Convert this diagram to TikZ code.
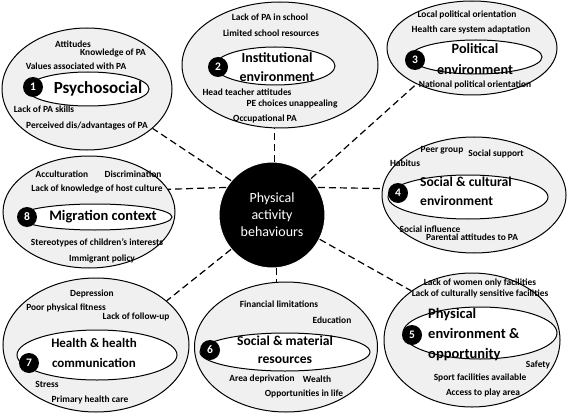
\documentclass[tikz,border=0pt]{standalone}
\usepackage{fontspec}
\setmainfont{Carlito}[BoldFont={Carlito Bold}]
\usetikzlibrary{shapes.geometric}
\definecolor{ringgray}{RGB}{240,240,240}
\definecolor{lineblack}{RGB}{0,0,0}

\begin{document}
\begin{tikzpicture}[x=1pt, y=-1pt,
  outer/.style={ellipse, draw=lineblack, fill=ringgray, line width=1pt, inner sep=0pt},
  inner/.style={ellipse, draw=lineblack, fill=white, line width=1pt, inner sep=0pt},
  badge/.style={circle, fill=black, text=white, font=\bfseries\fontsize{11.5}{11.5}\selectfont, minimum size=20pt, inner sep=0pt},
  lbl/.style={font=\bfseries\fontsize{9.4}{10}\selectfont, inner sep=0pt},
  ttl/.style={font=\bfseries\fontsize{14}{19}\selectfont, inner sep=0pt, align=center},
  link/.style={draw=lineblack, line width=1.2pt, dash pattern=on 7pt off 4pt}
]
\useasboundingbox (0,0) rectangle (569,414);

% outer rings
\node[outer, minimum width=170pt, minimum height=122pt] (o1) at (87,89) {};
\node[outer, minimum width=196pt, minimum height=126pt] (o2) at (280,65) {};
\node[outer, minimum width=170pt, minimum height=94pt] (o3) at (472,48) {};
\node[outer, minimum width=184pt, minimum height=116pt] (o4) at (474,195) {};
\node[outer, minimum width=176pt, minimum height=134pt] (o5) at (472,340) {};
\node[outer, minimum width=183pt, minimum height=130pt] (o6) at (286,347) {};
\node[outer, minimum width=186pt, minimum height=134pt] (o7) at (96,345) {};
\node[outer, minimum width=172pt, minimum height=112pt] (o8) at (89,212) {};

% inner rings
\node[inner, minimum width=122pt, minimum height=34pt] (i1) at (88,89) {};
\node[inner, minimum width=120pt, minimum height=38pt] (i2) at (275,66) {};
\node[inner, minimum width=132pt, minimum height=34pt] (i3) at (476,57) {};
\node[inner, minimum width=160pt, minimum height=44pt] (i4) at (468,197) {};
\node[inner, minimum width=154pt, minimum height=52pt] (i5) at (480,333) {};
\node[inner, minimum width=170pt, minimum height=38pt] (i6) at (285,352) {};
\node[inner, minimum width=160pt, minimum height=50pt] (i7) at (97,355) {};
\node[inner, minimum width=154pt, minimum height=26pt] (i8) at (95,217) {};

% numbers
\node[badge] (n1) at (33,87) {1};
\node[badge] (n2) at (218,67) {2};
\node[badge] (n3) at (415,60) {3};
\node[badge] (n4) at (398,193) {4};
\node[badge] (n5) at (412,335) {5};
\node[badge] (n6) at (210,350) {6};
\node[badge] (n7) at (29,363) {7};
\node[badge] (n8) at (27,217) {8};

% titles
\node[ttl, font=\bfseries\fontsize{17}{19}\selectfont] (t1) at (98,89) {Psychosocial};
\node[ttl] (t2) at (277,67.5) {Institutional\\environment};
\node[ttl, font=\bfseries\fontsize{14.2}{21}\selectfont] (t3) at (475,59.5) {Political\\environment};
\node[ttl, align=left, anchor=west, font=\bfseries\fontsize{13.6}{19}\selectfont] (t4) at (420,191.5) {Social \& cultural\\environment};
\node[ttl, align=left, anchor=west, font=\bfseries\fontsize{14.5}{20}\selectfont] (t5) at (428,335) {Physical\\environment \&\\opportunity};
\node[ttl, font=\bfseries\fontsize{13.6}{18}\selectfont] (t6) at (285,350) {Social \& material\\resources};
\node[ttl, font=\bfseries\fontsize{13}{20}\selectfont] (t7) at (94,353) {Health \& health\\communication};
\node[ttl, font=\bfseries\fontsize{14.5}{19}\selectfont] (t8) at (103,217) {Migration context};

% 1 psychosocial
\node[lbl] (a1) at (73,44) {Attitudes};
\node[lbl] (a2) at (113,53) {Knowledge of PA};
\node[lbl] (a3) at (76,66) {Values associated with PA};
\node[lbl] (a4) at (44,109) {Lack of PA skills};
\node[lbl] (a5) at (87,126) {Perceived dis/advantages of PA};
% 2 institutional
\node[lbl] (b1) at (270,17) {Lack of PA in school};
\node[lbl] (b2) at (271,33) {Limited school resources};
\node[lbl] (b3) at (247,92) {Head teacher attitudes};
\node[lbl] (b4) at (292,104) {PE choices unappealing};
\node[lbl] (b5) at (265,119) {Occupational PA};
% 3 political
\node[lbl] (p1) at (467,15) {Local political orientation};
\node[lbl] (p2) at (471,30) {Health care system adaptation};
\node[lbl] (p3) at (475,85) {National political orientation};
% 4 social and cultural
\node[lbl] (s1) at (442,150) {Peer group};
\node[lbl] (s2) at (496,154) {Social support};
\node[lbl] (s3) at (405,163) {Habitus};
\node[lbl] (s4) at (430,229) {Social influence};
\node[lbl] (s5) at (472,237) {Parental attitudes to PA};
% 5 physical environment
\node[lbl] (e1) at (480,283) {Lack of women only facilities};
\node[lbl] (e2) at (480,294) {Lack of culturally sensitive facilities};
\node[lbl] (e3) at (538,365) {Safety};
\node[lbl] (e4) at (480,378) {Sport facilities available};
\node[lbl] (e5) at (483,393) {Access to play area};
% 6 social and material
\node[lbl] (m1) at (279,304) {Financial limitations};
\node[lbl] (m2) at (332,320) {Education};
\node[lbl] (m3) at (262,379) {Area deprivation};
\node[lbl] (m4) at (317,379) {Wealth};
\node[lbl] (m5) at (304,394) {Opportunities in life};
% 7 health
\node[lbl] (h1) at (92,294) {Depression};
\node[lbl] (h2) at (66,308) {Poor physical fitness};
\node[lbl] (h3) at (136,317) {Lack of follow-up};
\node[lbl] (h4) at (47,384) {Stress};
\node[lbl] (h5) at (90,400) {Primary health care};
% 8 migration
\node[lbl] (g1) at (62,174) {Acculturation};
\node[lbl] (g2) at (133,174) {Discrimination};
\node[lbl] (g3) at (97,189) {Lack of knowledge of host culture};
\node[lbl] (g4) at (97,243) {Stereotypes of children's interests};
\node[lbl] (g5) at (102,259) {Immigrant policy};

% centre
\node[circle, fill=black, draw=white, line width=1pt, minimum size=106pt, inner sep=0pt,
  text=white, align=center, font=\fontsize{14}{17}\selectfont] (c) at (272,215)
  {Physical\\activity\\behaviours};

% links
\draw[link] (c.140) -- (o1.-31);
\draw[link] (c.87) -- (c.87 |- o2.south);
\draw[link] (c.43) -- (o3.213);
\draw[link] (c.31) -- (o4.176);
\draw[link] (c.-27) -- (o5.141);
\draw[link] (c.-85) -- (c.-85 |- o6.north);
\draw[link] (c.220) -- (o7.32);
\draw[link] (c.149) -- (o8.16);
\end{tikzpicture}
\end{document}
